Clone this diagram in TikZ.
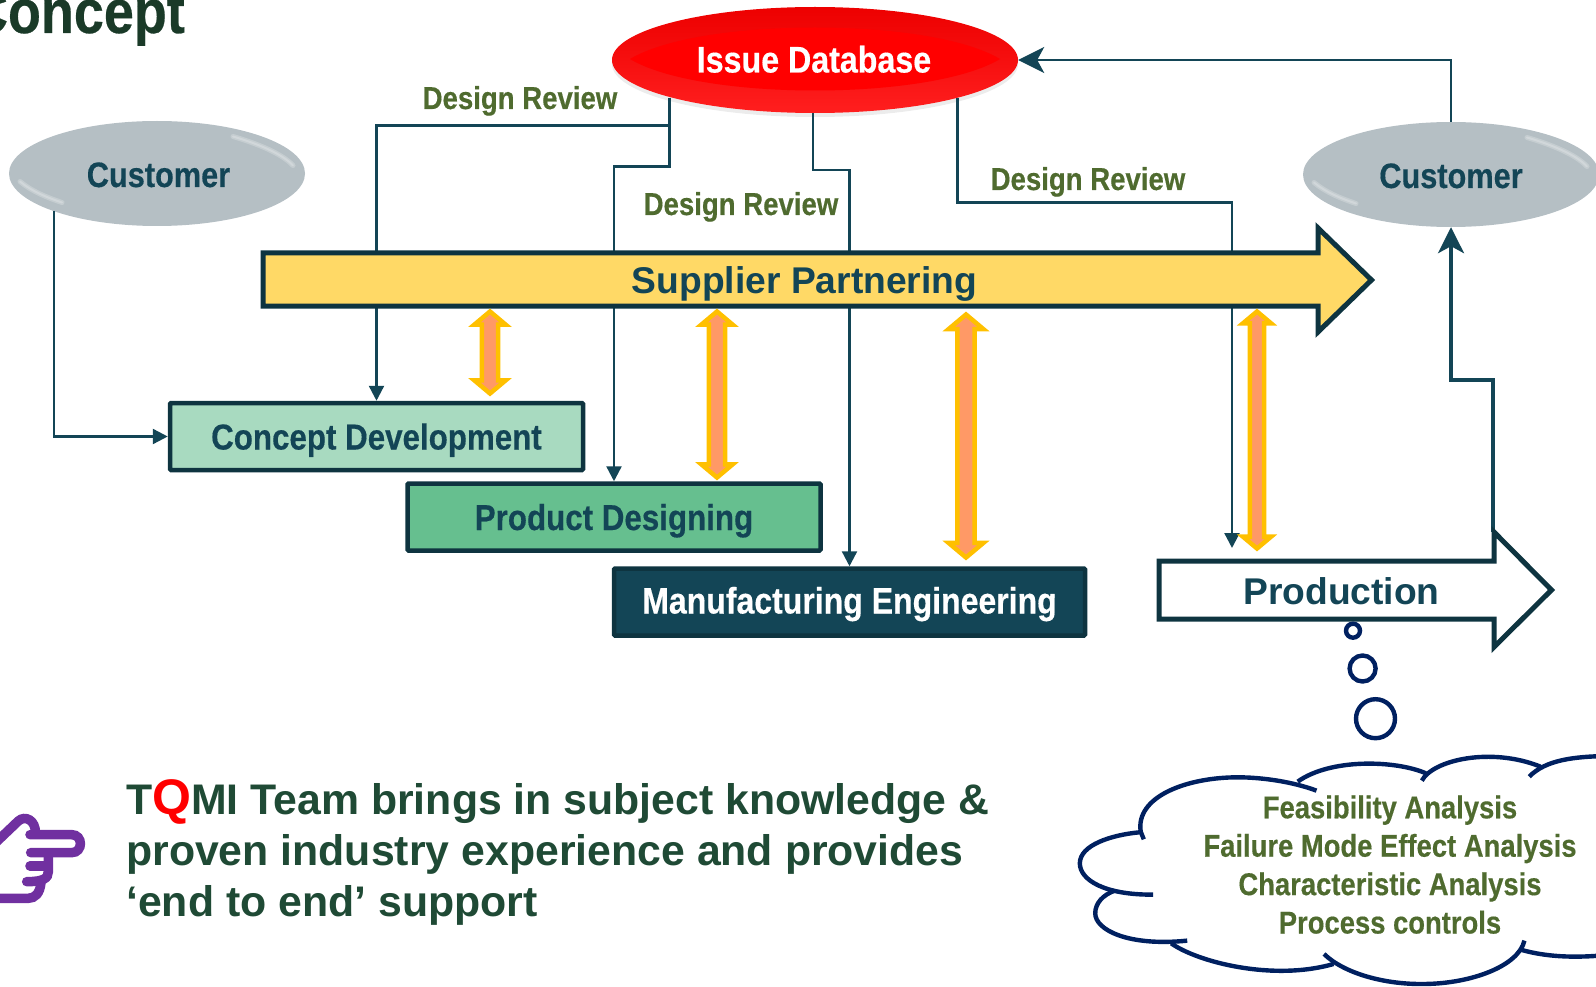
\documentclass[tikz,border=0pt]{standalone}
\usepackage{fontspec}
\setmainfont{Liberation Sans}
\newfontfamily\narrowfont[FakeStretch=0.87, FakeBold=0.4]{Liberation Sans}
\usetikzlibrary{shapes.geometric, shadows, arrows.meta}

\definecolor{linkblue}{HTML}{134556}
\definecolor{edgeblue}{HTML}{0E3440}
\definecolor{olive}{HTML}{4F6B2F}
\definecolor{teamgreen}{HTML}{1F4A35}
\definecolor{titlegreen}{HTML}{1A3A28}
\definecolor{cloudblue}{HTML}{002060}
\definecolor{gold}{HTML}{FFC000}
\definecolor{salmon}{HTML}{FF9966}
\definecolor{handpurple}{HTML}{7030A0}
\definecolor{ovalgrey}{HTML}{B5BFC4}
\definecolor{conceptgreen}{HTML}{A8DAC0}
\definecolor{productgreen}{HTML}{66BF8F}
\definecolor{supplieryellow}{HTML}{FFD966}

\tikzset{
    px/.style = {font=\narrowfont\bfseries\fontsize{#1}{#1}\selectfont},
    capsonly/.style = {text height=#1, text depth=0pt, inner sep=0pt},
    oval/.style = {shape=ellipse, inner sep=0pt, minimum width=296pt, minimum height=105pt, fill=#1},
    stage/.style = {draw=edgeblue, line width=4.5pt, rounded corners=1pt, minimum width=413pt, minimum height=67pt, capsonly=26pt, fill=#1, text=linkblue, px=36},
    link/.style = {draw=linkblue, line width=2.4pt},
    smallhead/.style = {-{Triangle[length=15pt, width=15pt]}},
    bighead/.style = {-{Stealth[length=26pt, width=26pt, inset=7pt]}},
    review/.style = {text=olive, px=31.7, capsonly=23pt},
    bararrow/.style = {draw=edgeblue, line width=5pt, miter limit=10},
    bothways/.style = {draw=gold, fill=salmon, line width=4.5pt, miter limit=10},
    gloss/.style = {draw=white, opacity=0.22, line cap=round},
    bubble/.style = {shape=circle, draw=cloudblue, line width=4.4pt, inner sep=0pt, minimum size=#1},
    cloudline/.style = {draw=cloudblue, line width=4.4pt},
}

\begin{document}
\begin{tikzpicture}[x=1pt, y=-1pt]
    \useasboundingbox (0, 0) rectangle (1596, 987);
    \clip (0, 0) rectangle (1596, 987);

    \node[anchor=base east, inner sep=0pt, text=titlegreen, px=62] (title) at (185, 33) {Concept};

    % ovals
    \node[shape=ellipse, inner sep=0pt, minimum width=406pt, minimum height=106pt, top color=red!93!black, bottom color=red!88!white, drop shadow={shadow xshift=0pt, shadow yshift=-4pt, opacity=0.15, fill=gray}] (issue) at (815, 60) {};
    \fill[red] (630, 59) .. controls (700, 17) and (930, 17) .. (1000, 59) .. controls (930, 101) and (700, 101) .. (630, 59);
    \node[text=white, px=37, capsonly=27pt] (issuetext) at (814, 59) {Issue Database};
    \node[oval=ovalgrey] (custL) at (157, 173.5) {};
    \node[oval=ovalgrey] (custR) at (1451, 174.5) {};
    \foreach \c in {custL, custR} {
        \begin{scope}[shift={(\c)}]
            \foreach \w in {2, 5} {
                \draw[gloss, line width=\w pt] (-137, 8) .. controls (-125, 18) and (-110, 24) .. (-95, 29);
                \draw[gloss, line width=\w pt] (136, -8) .. controls (125, -20) and (100, -30) .. (76, -37);
            }
        \end{scope}
    }
    \node[text=linkblue, px=35.3, capsonly=27pt] (custLtext) at (158.5, 173.5) {Customer};
    \node[text=linkblue, px=35.3, capsonly=27pt] (custRtext) at (custR) {Customer};

    % stages
    \node[stage=conceptgreen] (concept) at (376.5, 436.5) {Concept Development};
    \node[stage=productgreen] (product) at (614, 517) {Product Designing};
    \node[stage=linkblue, minimum width=471pt, text=white, px=36.8, capsonly=23pt] (manuf) at (849.5, 602) {Manufacturing Engineering};

    % connectors
    \coordinate (reviewend) at (1232, 548);
    \coordinate (prodout) at (1493, 532);
    \draw[link, smallhead] ([xshift=-2pt]issue.south west) -- ++(0, 28) -| (concept.north);
    \draw[link, smallhead] ([xshift=-2pt]issue.south west) -- ++(0, 69) -| (product.north);
    \draw[link, smallhead] ([xshift=-2pt]issue.south) -- ++(0, 57) -| (manuf.north);
    \draw[link, smallhead] ([xshift=-1pt]issue.south east) -- ++(0, 105) -| (reviewend);
    \draw[link, smallhead] ([xshift=2pt]custL.south west) |- (concept.west);
    \draw[link, bighead] (custR.north) |- (issue.east);
    \draw[link, bighead, line width=3.6pt] (prodout) -- (1493, 380) -| (custR.south);

    % big arrows
    \draw[bararrow, fill=supplieryellow] (263, 253) -- (1318, 253) -- (1318, 228) -- (1371.5, 280) -- (1318, 332) -- (1318, 306) -- (263, 306) -- cycle;
    \node[text=linkblue, capsonly=26pt, font=\bfseries\fontsize{37.2}{37}\selectfont] (supplier) at (804.5, 280) {Supplier Partnering};
    \draw[bararrow, fill=white] (1159, 561) -- (1494, 561) -- (1494, 532) -- (1551.5, 590) -- (1494, 647) -- (1494, 619) -- (1159, 619) -- cycle;
    \node[text=linkblue, capsonly=26pt, font=\bfseries\fontsize{37.2}{37}\selectfont] (production) at (1341.5, 591) {Production};

    \foreach \x/\ya/\yb/\h/\s in {490/311.5/393.5/15.5/8.1, 717/311.5/477.5/15.5/8.1, 966/314.5/557.5/17.5/8.6, 1257/311.5/548.5/14/7.2} {
        \pgfmathsetmacro{\v}{\h*0.84}
        \pgfmathsetmacro{\w}{\h-\s}
        \draw[bothways] (\x, \ya) -- ++(\h, \v) -- ++(-\w, 0) -- ({\x+\s}, {\yb-\v}) -- ++(\w, 0) -- (\x, \yb)
            -- ++(-\h, -\v) -- ++(\w, 0) -- ({\x-\s}, {\ya+\v}) -- ++(-\w, 0) -- cycle;
    }

    % labels
    \node[review] (reviewA) at (520, 97.5) {Design Review};
    \node[review] (reviewB) at (741, 203.5) {Design Review};
    \node[review] (reviewC) at (1088, 178.5) {Design Review};

    % thought bubbles
    \node[bubble=14pt] (bubbleA) at (1353, 630.7) {};
    \node[bubble=26pt] (bubbleB) at (1362.6, 668.5) {};
    \node[bubble=39pt] (bubbleC) at (1375.5, 718.7) {};

    % cloud
    \begin{scope}[shift={(1060, 600)}, x=0.342pt, y=-0.3333pt]
        \draw[cloudline] (750, 572) .. controls (680, 545) and (590, 532) .. (520, 532) .. controls (370, 532) and (220, 590) .. (236, 695) -- (245, 718);
        \draw[cloudline] (232, 697) .. controls (150, 705) and (58, 735) .. (58, 790) .. controls (58, 840) and (130, 885) .. (272, 884);
        \draw[cloudline] (160, 872) .. controls (125, 885) and (103, 910) .. (103, 940) .. controls (103, 990) and (200, 1040) .. (372, 1022);
        \draw[cloudline] (325, 1030) .. controls (400, 1085) and (620, 1145) .. (800, 1092);
        \draw[cloudline] (772, 1062) .. controls (830, 1120) and (950, 1155) .. (1070, 1152) .. controls (1200, 1150) and (1340, 1100) .. (1358, 1022);
        \draw[cloudline] (1350, 1050) .. controls (1420, 1070) and (1500, 1075) .. (1600, 1065);
        \draw[cloudline] (695, 545) .. controls (790, 475) and (980, 480) .. (1070, 520);
        \draw[cloudline] (1058, 542) .. controls (1090, 480) and (1260, 440) .. (1405, 500);
        \draw[cloudline] (1372, 530) .. controls (1420, 480) and (1500, 470) .. (1600, 468);
    \end{scope}
    \node[text=olive, inner sep=0pt, align=center, anchor=base, font=\narrowfont\bfseries\fontsize{31.5}{38.4}\selectfont] (checks) at (1390, 933.5) {Feasibility Analysis\\Failure Mode Effect Analysis\\Characteristic Analysis\\Process controls};

    % hand
    \begin{scope}[shift={(0, 740)}, x=0.3333pt, y=-0.3333pt, draw=handpurple, line width=9.5pt, line cap=round]
        \draw (-10, 305) -- (55, 243) .. controls (75, 225) and (108, 240) .. (106, 280);
        \draw (90, 284) -- (215, 284) .. controls (250, 284) and (250, 338) .. (215, 338) -- (92, 338);
        \draw (145, 340) -- (145, 395) .. controls (145, 415) and (130, 425) .. (80, 425);
        \draw (90, 378) -- (140, 378);
        \draw (123, 428) .. controls (120, 460) and (105, 475) .. (85, 475) -- (-10, 475);
    \end{scope}

    \node[anchor=base west, inner sep=0pt, align=left, text=teamgreen, font=\bfseries\fontsize{42.8}{51}\selectfont] (team) at (126, 916) {T{\color{red}\fontsize{50}{51}\selectfont Q}MI Team brings in subject knowledge \&\\proven industry experience and provides\\‘end to end’ support};
\end{tikzpicture}
\end{document}
